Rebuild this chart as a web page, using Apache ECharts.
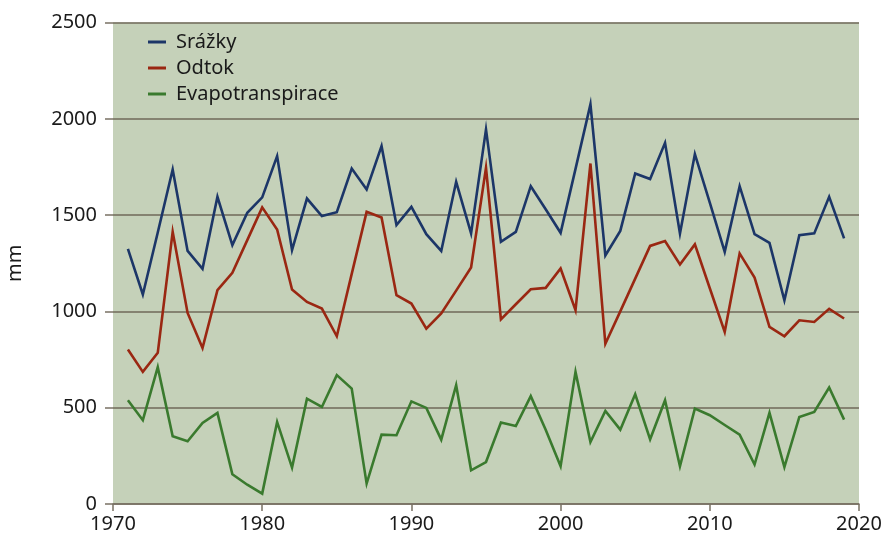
<!DOCTYPE html>
<html>
<head>
<meta charset="utf-8">
<script src="https://cdn.jsdelivr.net/npm/echarts@6/dist/echarts.min.js"></script>
<style>
  html, body { margin: 0; padding: 0; background: #ffffff; }
  #chart { width: 884px; height: 536px; }
</style>
</head>
<body>
<div id="chart"></div>
<script>
// Roky 1971–2019
const years = [];
for (let y = 1971; y <= 2019; y++) years.push(y);

// Srážky (mm)
const srazky = [
  1325, 1088, 1410, 1737, 1314, 1221, 1595, 1344, 1512, 1592,
  1806, 1318, 1586, 1495, 1515, 1742, 1633, 1858, 1448, 1543,
  1401, 1314, 1673, 1405, 1945, 1361, 1413, 1650, 1530, 1408,
  1740, 2075, 1290, 1418, 1716, 1687, 1875, 1405, 1817, 1565,
  1309, 1650, 1401, 1356, 1058, 1396, 1405, 1595, 1379
];

// Odtok (mm)
const odtok = [
  802, 686, 785, 1413, 992, 810, 1110, 1200, 1370, 1540,
  1425, 1114, 1049, 1015, 871, 1195, 1517, 1488, 1084, 1041,
  911, 989, 1108, 1228, 1745, 959, 1037, 1115, 1122, 1223,
  1006, 1768, 832, 1000, 1170, 1340, 1365, 1244, 1348, 1120,
  894, 1301, 1176, 920, 871, 954, 945, 1013, 963
];

// Evapotranspirace (mm)
const evapo = [
  539, 435, 710, 352, 326, 421, 473, 154, 100, 54,
  426, 189, 547, 504, 669, 599, 106, 360, 357, 533,
  499, 334, 617, 175, 218, 423, 405, 560, 386, 196,
  686, 322, 483, 386, 570, 336, 539, 196, 496, 461,
  410, 360, 205, 473, 192, 452, 478, 605, 438
];

// Osy
const xTicks = [1970, 1980, 1990, 2000, 2010, 2020];
const yTicks = [0, 500, 1000, 1500, 2000, 2500];

const seriesNames = ['Srážky', 'Odtok', 'Evapotranspirace'];
const seriesColors = ['#1c3668', '#9a2712', '#3a7a2e'];
const seriesData = [srazky, odtok, evapo];

const pair = (arr) => years.map((y, i) => [y, arr[i]]);

const FONT = '"Noto Sans", "Open Sans", sans-serif';
const chart = echarts.init(document.getElementById('chart'), null, { renderer: 'canvas' });

chart.setOption({
  animation: false,
  backgroundColor: '#ffffff',
  textStyle: { fontFamily: FONT, color: '#1a1a1a' },
  grid: {
    left: 113, right: 25, top: 22.5, bottom: 32,
    outerBoundsMode: 'none',
    containLabel: false,
    show: true, backgroundColor: '#c5d1b9', borderWidth: 0
  },
  legend: {
    orient: 'vertical',
    left: 148, top: 32,
    padding: 0,
    itemWidth: 18, itemHeight: 3,
    itemGap: 6,
    icon: 'rect',
    data: seriesNames,
    textStyle: { fontFamily: FONT, fontSize: 20, color: '#1a1a1a', padding: [0, 0, 0, 5] }
  },
  xAxis: {
    type: 'value',
    min: xTicks[0], max: xTicks[xTicks.length - 1], interval: 10,
    axisLine: { show: true, lineStyle: { color: '#7a7264', width: 1.5 } },
    axisTick: { show: true, length: 7, lineStyle: { color: '#7a7264', width: 1.5 } },
    splitLine: { show: false },
    axisLabel: { fontFamily: FONT, fontSize: 20, color: '#1a1a1a', margin: 10,
                 formatter: (v) => String(v) }
  },
  yAxis: {
    type: 'value',
    min: yTicks[0], max: yTicks[yTicks.length - 1], interval: 500,
    name: 'mm',
    nameLocation: 'middle',
    nameGap: 88,
    nameRotate: 90,
    nameTextStyle: { fontFamily: FONT, fontSize: 20, color: '#1a1a1a' },
    axisLine: { show: false },
    axisTick: { show: true, length: 8, lineStyle: { color: '#7a7264', width: 1.5 } },
    splitLine: { show: true, lineStyle: { color: '#6f685a', width: 1.5 } },
    axisLabel: { fontFamily: FONT, fontSize: 20, color: '#1a1a1a', margin: 16,
                 formatter: (v) => String(v) }
  },
  series: seriesNames.map((name, i) => ({
    name,
    type: 'line',
    data: pair(seriesData[i]),
    showSymbol: false,
    symbol: 'none',
    lineStyle: { color: seriesColors[i], width: 2.6, join: 'miter' },
    itemStyle: { color: seriesColors[i] }
  }))
});
</script>
</body>
</html>
